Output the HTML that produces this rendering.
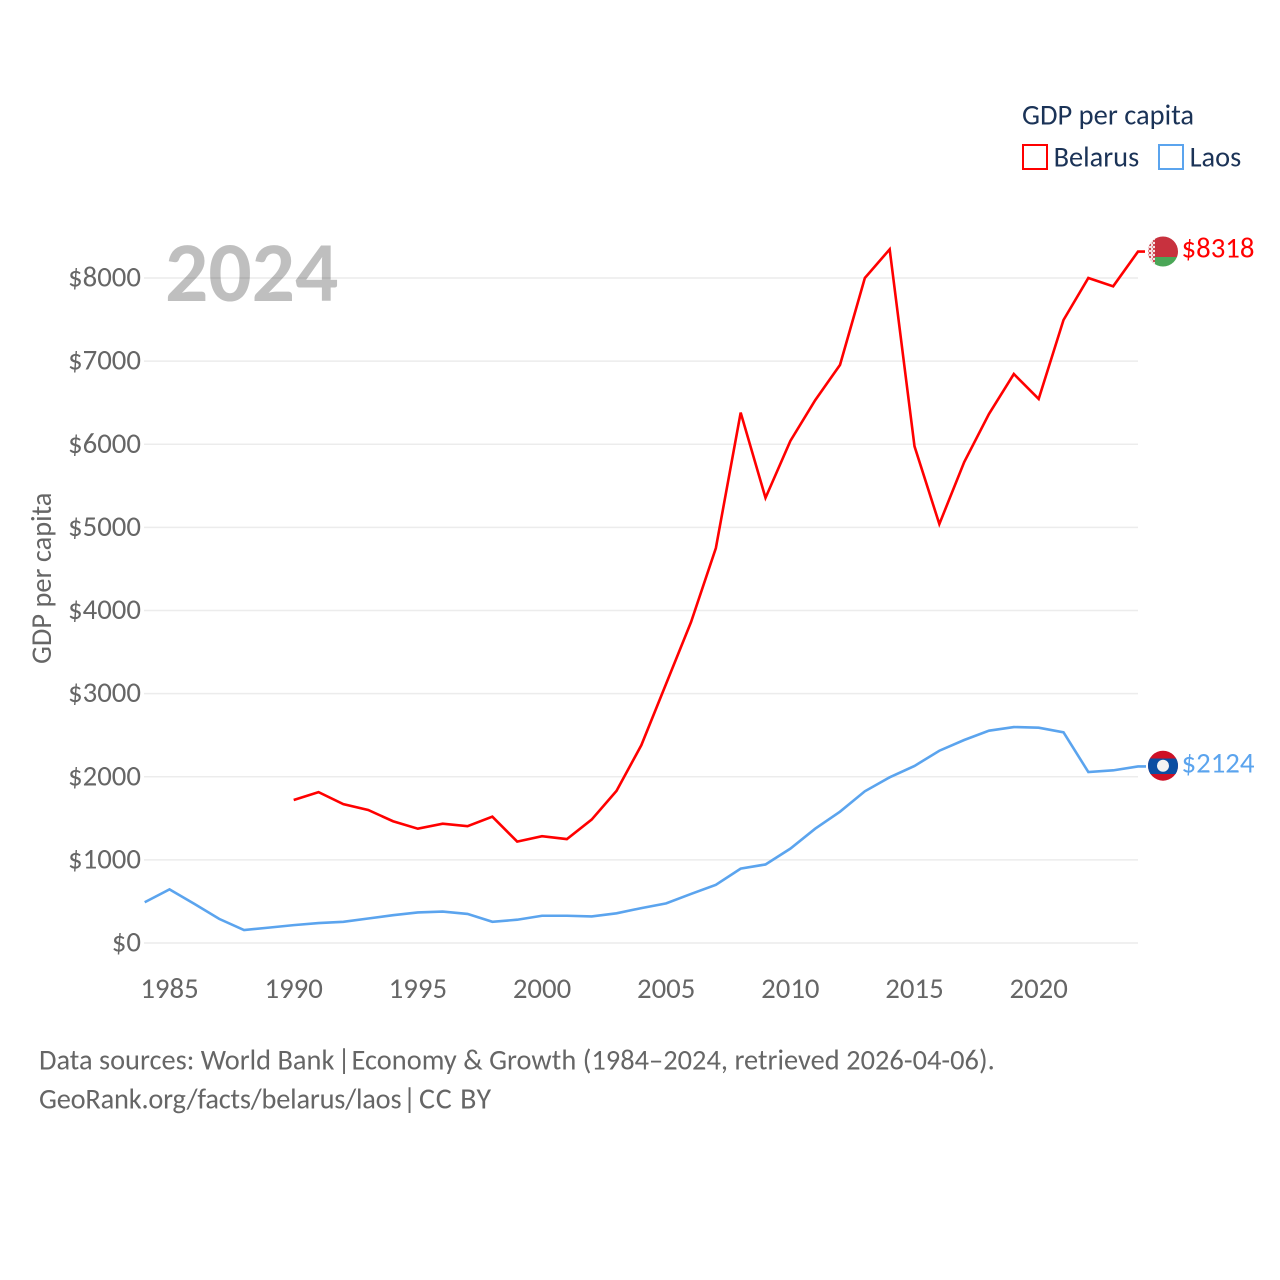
<!DOCTYPE html>
<html lang="en">
<head>
<meta charset="utf-8">
<title>GDP per capita: Belarus and Laos</title>
<style>
html,body{margin:0;padding:0;background:#fff;}
#chart{display:block;width:1280px;height:1280px;font-family:"Carlito","Lato","Liberation Sans",sans-serif;}
.tick{font-size:28.8px;fill:#666;}
</style>
</head>
<body>
<svg id="chart" xmlns="http://www.w3.org/2000/svg" width="1280" height="1280" viewBox="0 0 1280 1280">
  <defs>
    <clipPath id="flag-clip-by"><circle cx="1163" cy="251.5" r="15"/></clipPath>
    <clipPath id="flag-clip-la"><circle cx="1163" cy="765.7" r="15"/></clipPath>
    <pattern id="ornament" width="4" height="4" patternUnits="userSpaceOnUse">
      <rect width="4" height="4" fill="#f4e3e4"/>
      <rect x="1" y="0" width="2" height="2" fill="#cf4a55"/>
      <rect x="0" y="2" width="1" height="2" fill="#dc8a91"/>
    </pattern>
  </defs>
  <rect x="0" y="0" width="1280" height="1280" fill="#fff"/>
  <g id="grid"></g>
  <g id="y-ticks"></g>
  <g id="x-ticks"></g>
  <text transform="translate(51,664) rotate(-90)" font-size="28.4" fill="#666">GDP per capita</text>
  <text x="165" y="301" font-size="85.5" font-weight="700" fill="#000" fill-opacity="0.25">2024</text>
  <g id="series"></g>

  <g clip-path="url(#flag-clip-by)">
    <rect x="1148" y="236" width="30" height="21" fill="#c8313e"/>
    <rect x="1148" y="257" width="30" height="11" fill="#4aa657"/>
    <rect x="1148" y="236" width="7" height="32" fill="url(#ornament)"/>
  </g>
  <g clip-path="url(#flag-clip-la)">
    <rect x="1148" y="750" width="30" height="32" fill="#ce1126"/>
    <rect x="1148" y="758.5" width="30" height="15.5" fill="#0b4ea2"/>
    <circle cx="1163" cy="765.7" r="6" fill="#f2f2f2"/>
  </g>
  <text id="label-belarus" x="1181.5" y="257.5" font-size="28.8" fill="#ff0000"></text>
  <text id="label-laos" x="1181.5" y="772.5" font-size="28.8" fill="#5ba4ee"></text>

  <text x="1022" y="124.5" font-size="28.5" fill="#1b3357">GDP per capita</text>
  <g>
    <rect x="1023" y="145" width="24" height="24" fill="none" stroke="#ff0000" stroke-width="2"/>
    <text x="1053.6" y="166.5" font-size="28.4" fill="#1b3357">Belarus</text>
  </g>
  <g>
    <rect x="1159" y="145" width="24" height="24" fill="none" stroke="#5ba4ee" stroke-width="2"/>
    <text x="1189.6" y="166.5" font-size="28.4" fill="#1b3357">Laos</text>
  </g>

  <text y="1069.5" font-size="28.4" fill="#666"><tspan x="39">Data sources: World Bank</tspan> <tspan x="337.5">|</tspan> <tspan x="351.5" letter-spacing="0.03">Economy &amp; Growth (1984–2024, retrieved 2026-04-06).</tspan></text>
  <text y="1108.5" font-size="28.4" fill="#666"><tspan x="39" letter-spacing="-0.2">GeoRank.org/facts/belarus/laos</tspan> <tspan x="403">|</tspan> <tspan x="419" font-size="30" letter-spacing="0.8">CC BY</tspan></text>
</svg>
<script>
const years = [1984,1985,1986,1987,1988,1989,1990,1991,1992,1993,1994,1995,1996,1997,1998,1999,2000,2001,2002,2003,2004,2005,2006,2007,2008,2009,2010,2011,2012,2013,2014,2015,2016,2017,2018,2019,2020,2021,2022,2023,2024];
const belarusValues = [null,null,null,null,null,null,1720,1815,1670,1600,1465,1375,1435,1405,1520,1220,1285,1250,1485,1830,2380,3120,3860,4750,6380,5355,6040,6530,6955,8000,8345,5975,5040,5785,6365,6845,6545,7495,8000,7900,8318];
const laosValues = [490,645,470,290,156,185,215,240,255,295,335,368,378,350,255,280,328,328,320,357,420,477,590,700,895,945,1135,1375,1580,1825,1993,2130,2313,2442,2554,2598,2590,2534,2057,2077,2124];
const yTickValues = [0,1000,2000,3000,4000,5000,6000,7000,8000];
const xTickValues = [1985,1990,1995,2000,2005,2010,2015,2020];

const NS = 'http://www.w3.org/2000/svg';
const xScale = function (year) { return 144.7 + (year - 1984) * (1138 - 144.7) / 40; };
const yScale = function (value) { return 943 - value * 0.083125; };

const grid = document.getElementById('grid');
const yTicksGroup = document.getElementById('y-ticks');
yTickValues.forEach(function (v) {
  const line = document.createElementNS(NS, 'line');
  
  
  line.setAttribute('x1', 144);
  line.setAttribute('x2', 1138);
  line.setAttribute('y1', yScale(v));
  line.setAttribute('y2', yScale(v));
  line.setAttribute('stroke', '#ececec');
  line.setAttribute('stroke-width', 1.5);
  grid.appendChild(line);

  const label = document.createElementNS(NS, 'text');
  
  
  label.setAttribute('class', 'tick');
  label.setAttribute('x', 141);
  label.setAttribute('y', yScale(v) + 8.5);
  label.setAttribute('text-anchor', 'end');
  label.textContent = '$' + v;
  yTicksGroup.appendChild(label);
});

const xTicksGroup = document.getElementById('x-ticks');
xTickValues.forEach(function (year) {
  const label = document.createElementNS(NS, 'text');
  
  
  label.setAttribute('class', 'tick');
  label.setAttribute('x', xScale(year));
  label.setAttribute('y', 998);
  label.setAttribute('text-anchor', 'middle');
  label.textContent = String(year);
  xTicksGroup.appendChild(label);
});

const seriesGroup = document.getElementById('series');
function pathFor(values) {
  let d = '';
  values.forEach(function (v, i) {
    if (v === null) return;
    d += (d ? 'L' : 'M') + xScale(years[i]).toFixed(2) + ' ' + yScale(v).toFixed(2);
  });
  return d;
}
function lastValue(values) { return values[values.length - 1]; }

const belarusLine = document.createElementNS(NS, 'path');


belarusLine.setAttribute('d', pathFor(belarusValues) + 'h7');
belarusLine.setAttribute('fill', 'none');
belarusLine.setAttribute('stroke', '#ff0000');
belarusLine.setAttribute('stroke-width', 2.6);
seriesGroup.appendChild(belarusLine);

const laosLine = document.createElementNS(NS, 'path');


laosLine.setAttribute('d', pathFor(laosValues) + 'h8');
laosLine.setAttribute('fill', 'none');
laosLine.setAttribute('stroke', '#5ba4ee');
laosLine.setAttribute('stroke-width', 2.6);
seriesGroup.appendChild(laosLine);

document.getElementById('label-belarus').textContent = '$' + lastValue(belarusValues);
document.getElementById('label-laos').textContent = '$' + lastValue(laosValues);
</script>
</body>
</html>
